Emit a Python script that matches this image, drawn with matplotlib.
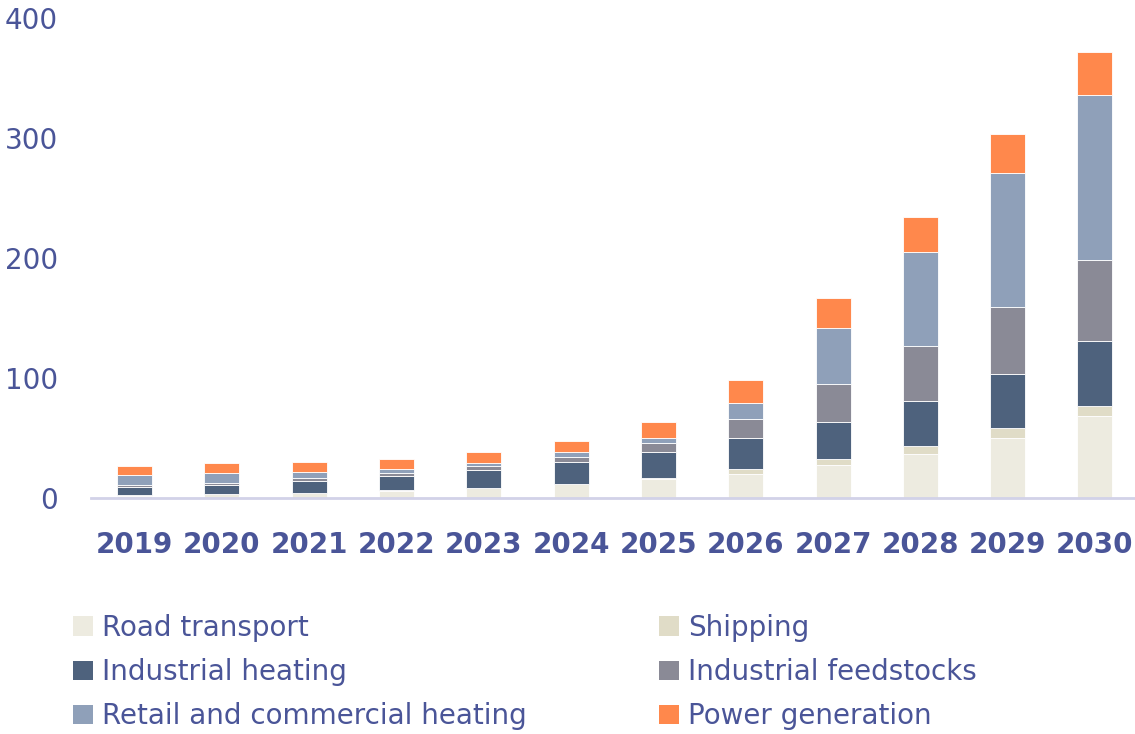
import matplotlib
matplotlib.use("Agg")
import matplotlib.pyplot as plt
from matplotlib.patches import Patch
import numpy as np

years = ["2019", "2020", "2021", "2022", "2023", "2024",
         "2025", "2026", "2027", "2028", "2029", "2030"]

road_transport = [2, 3, 4, 6, 8, 11.5, 15.5, 20, 27.5, 37, 50, 68]
shipping = [0.2, 0.1, 0.2, 0.5, 0.5, 0.5, 1.5, 4.5, 5, 6, 8, 9]
industrial_heating = [7.2, 8, 10.2, 12, 15, 18, 21, 25.5, 31, 38, 45, 54]
industrial_feedstocks = [1.2, 1.1, 2, 2.5, 3, 4.5, 8, 16, 31.5, 46, 56, 67]
retail_commercial_heating = [8.6, 8.4, 5.3, 2.8, 2.7, 3.6, 4, 13, 47, 78, 112, 138]
power_generation = [7.5, 8.3, 8.6, 9, 9, 9.2, 13.6, 19, 24.5, 29, 32, 36]

series_names = ["Road transport", "Shipping", "Industrial heating",
                "Industrial feedstocks", "Retail and commercial heating",
                "Power generation"]
series_values = [road_transport, shipping, industrial_heating,
                 industrial_feedstocks, retail_commercial_heating,
                 power_generation]
colors = ["#EDEBE0", "#E0DCC7", "#4E627D", "#8A8A96", "#8FA0B9", "#FF884C"]

text_color = "#4A5598"
axis_color = "#D2D2E8"

plt.rcParams["font.family"] = ["DejaVu Sans"]

fig = plt.figure(figsize=(11.35, 7.34), dpi=100)
ax = fig.add_axes([91 / 1135, 1 - 498 / 734, 1047.6 / 1135, 480 / 734])

x = np.arange(len(years))
bottom = np.zeros(len(years))
for name, vals, col in zip(series_names, series_values, colors):
    vals = np.array(vals, dtype=float)
    ax.bar(x, vals, width=0.4, bottom=bottom, color=col,
           edgecolor="white", linewidth=0.6, label=name, zorder=2)
    bottom += vals

ax.set_xlim(-0.5, len(years) - 0.5)
ax.set_ylim(0, 400)
ax.set_yticks([0, 100, 200, 300, 400])
ax.set_xticks(x)
ax.set_xticklabels(years, fontweight="bold")

for side in ["top", "right", "left"]:
    ax.spines[side].set_visible(False)
ax.spines["bottom"].set_color(axis_color)
ax.spines["bottom"].set_linewidth(2)
ax.spines["bottom"].set_zorder(3)

ax.tick_params(axis="y", length=0, pad=24, labelsize=20, labelcolor=text_color)
ax.tick_params(axis="x", length=0, pad=24, labelsize=20, labelcolor=text_color)

handles = [Patch(facecolor=c, edgecolor="none") for c in colors]
legend_kw = dict(frameon=False, fontsize=20, labelcolor=text_color,
                 handlelength=0.72, handleheight=0.72, handletextpad=0.33,
                 labelspacing=0.58, borderpad=0, borderaxespad=0,
                 loc="upper left")
left_idx = [0, 2, 4]
right_idx = [1, 3, 5]
fig.legend([handles[i] for i in left_idx], [series_names[i] for i in left_idx],
           bbox_to_anchor=(73 / 1135, 1 - 614 / 734), **legend_kw)
fig.legend([handles[i] for i in right_idx], [series_names[i] for i in right_idx],
           bbox_to_anchor=(659 / 1135, 1 - 614 / 734), **legend_kw)

fig.savefig("out.png", dpi=100)
